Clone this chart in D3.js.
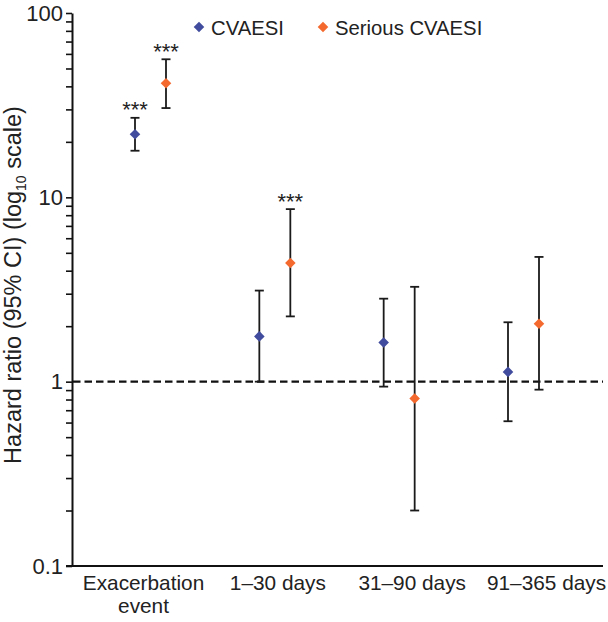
<!DOCTYPE html>
<html>
<head>
<meta charset="utf-8">
<script src="https://cdn.jsdelivr.net/npm/d3@7"></script>
<style>
  html, body { margin: 0; padding: 0; background: #fff; }
  svg { display: block; font-family: "Liberation Sans", Arial, sans-serif; }
</style>
</head>
<body>
<svg id="chart" width="608" height="622"></svg>
<script>
// ---- data ----
const categories = ["Exacerbation\nevent", "1–30 days", "31–90 days", "91–365 days"];
const seriesNames = ["CVAESI", "Serious CVAESI"];
const seriesColors = ["#414C9E", "#F4692E"];
const cvaesiHR    = [22.0, 1.76, 1.63, 1.13];
const cvaesiLow   = [17.9, 1.00, 0.94, 0.61];
const cvaesiHigh  = [27.0, 3.12, 2.82, 2.10];
const seriousHR   = [41.6, 4.40, 0.81, 2.06];
const seriousLow  = [30.5, 2.26, 0.20, 0.905];
const seriousHigh = [56.1, 8.63, 3.27, 4.75];
const cvaesiSig   = ["***", "", "", ""];
const seriousSig  = ["***", "***", "", ""];
const majorTicks  = [0.1, 1, 10, 100];
const minorTicks  = [0.2,0.3,0.4,0.5,0.6,0.7,0.8,0.9,2,3,4,5,6,7,8,9,20,30,40,50,60,70,80,90];
const refLine = 1;

const series = [
  {name: seriesNames[0], color: seriesColors[0], hr: cvaesiHR, lo: cvaesiLow, hi: cvaesiHigh, sig: cvaesiSig},
  {name: seriesNames[1], color: seriesColors[1], hr: seriousHR, lo: seriousLow, hi: seriousHigh, sig: seriousSig}
];

// ---- layout ----
const svg = d3.select("#chart");
const axisX0 = 72, axisX1 = 603, axisY0 = 566, axisY1 = 13;

const y = d3.scaleLog().domain([0.1, 100]).range([axisY0, axisY1]);
const xGroup = d3.scalePoint().domain(categories).range([150.5, 523.5]);
const xOff = d3.scalePoint().domain(seriesNames).range([-15.5, 15.5]);
const xLabel = d3.scalePoint().domain(categories).range([143, 546]);

// y axis
const yAxis = d3.axisLeft(y)
  .tickValues(majorTicks.concat(minorTicks))
  .tickSize(6).tickSizeOuter(0).tickPadding(3)
  .tickFormat(d => majorTicks.includes(d) ? d3.format("")(d) : "");
const gy = svg.append("g").attr("transform", `translate(${axisX0},0)`).call(yAxis);
gy.select(".domain").attr("stroke", "#111").attr("stroke-width", 2);
gy.selectAll(".tick line").attr("stroke", "#111").attr("stroke-width", 1.6);
gy.selectAll(".tick text").attr("font-size", 22).attr("fill", "#222")
  .attr("font-family", "Liberation Sans, Arial, sans-serif");

// x axis (labels only) + baseline
const xAxis = d3.axisBottom(xLabel).tickSize(0).tickPadding(0).tickFormat("");
const gx = svg.append("g").attr("transform", `translate(0,${axisY0})`).call(xAxis);
gx.select(".domain").remove();
gx.selectAll(".tick").each(function(d) {
  const lines = d.split("\n");
  const t = d3.select(this).append("text")
    .attr("text-anchor", "middle").attr("fill", "#222")
    .attr("font-size", 20.8).attr("font-family", "Liberation Sans, Arial, sans-serif");
  lines.forEach((ln, i) => t.append("tspan").attr("x", 0).attr("y", 24 + i * 23).text(ln));
});
svg.append("line")
  .attr("x1", axisX0 - 6).attr("x2", axisX1)
  .attr("y1", axisY0).attr("y2", axisY0)
  .attr("stroke", "#111").attr("stroke-width", 2);

// y label
const yl = svg.append("text")
  .attr("transform", `translate(21,285) rotate(-90)`)
  .attr("text-anchor", "middle").attr("font-size", 23.5).attr("fill", "#222");
yl.append("tspan").text("Hazard ratio (95% CI) (log");
yl.append("tspan").attr("font-size", 14).attr("dy", 5).text("10");
yl.append("tspan").attr("dy", -5).text(" scale)");

// reference line at HR = 1
svg.append("line")
  .attr("x1", axisX0 + 1).attr("x2", axisX1)
  .attr("y1", y(refLine)).attr("y2", y(refLine))
  .attr("stroke", "#111").attr("stroke-width", 2.3).attr("stroke-dasharray", "7.5,4");

// error bars, markers, significance stars
const diamond = d3.symbol().type(d3.symbolSquare).size(56);
series.forEach(s => {
  const g = svg.append("g");
  categories.forEach((c, i) => {
    const cx = xGroup(c) + xOff(s.name);
    g.append("line").attr("x1", cx).attr("x2", cx)
      .attr("y1", y(s.lo[i])).attr("y2", y(s.hi[i]))
      .attr("stroke", "#1a1a1a").attr("stroke-width", 1.8);
    [s.lo[i], s.hi[i]].forEach(v => {
      g.append("line").attr("x1", cx - 4.5).attr("x2", cx + 4.5)
        .attr("y1", y(v)).attr("y2", y(v))
        .attr("stroke", "#1a1a1a").attr("stroke-width", 1.8);
    });
    g.append("path").attr("d", diamond)
      .attr("transform", `translate(${cx},${y(s.hr[i])}) rotate(45)`)
      .attr("fill", s.color);
    if (s.sig[i]) {
      g.append("text").attr("x", cx).attr("y", y(s.hi[i]) - 0.5)
        .attr("text-anchor", "middle").attr("font-size", 22).attr("fill", "#222")
        .text(s.sig[i]);
    }
  });
});

// legend
const legendX = [199, 323];
series.forEach((s, i) => {
  const lg = svg.append("g").attr("transform", `translate(${legendX[i]},27)`);
  lg.append("path").attr("d", diamond).attr("transform", "rotate(45)").attr("fill", s.color);
  lg.append("text").attr("x", 12).attr("y", 7.5).attr("font-size", 20.3).attr("fill", "#222").text(s.name);
});
</script>
</body>
</html>
